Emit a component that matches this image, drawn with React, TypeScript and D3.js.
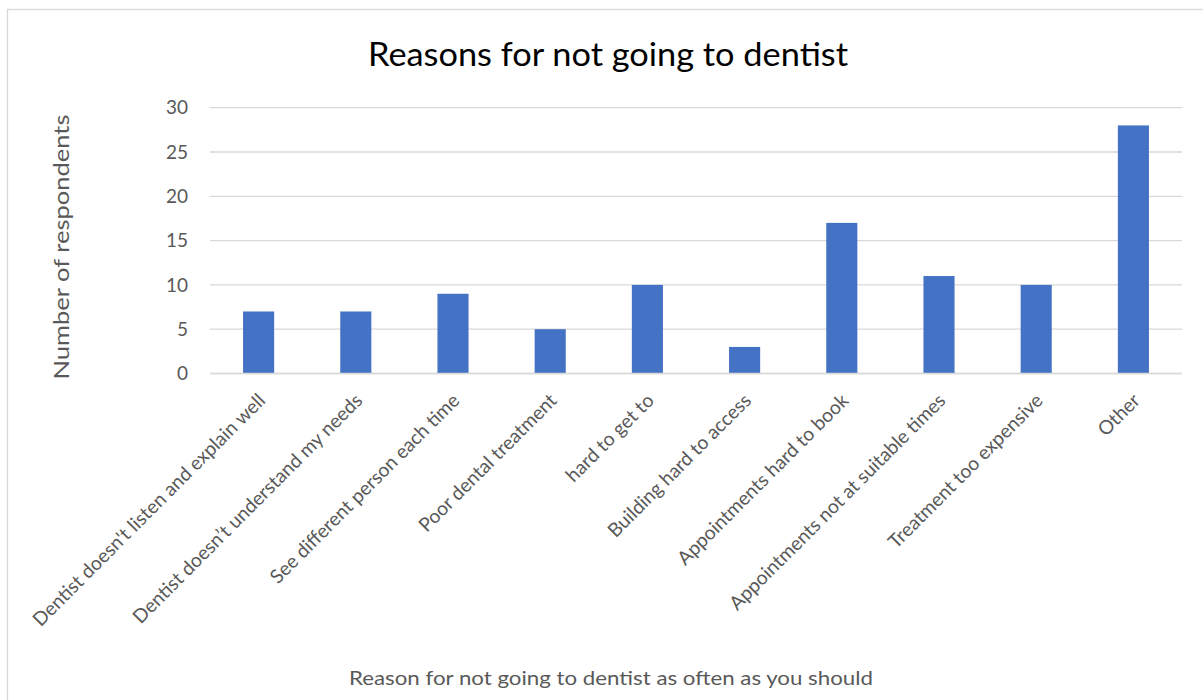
import React from "react";
import * as d3 from "d3";

const categories = [
  "Dentist doesn't listen and explain well",
  "Dentist doesn\u2019t understand my needs",
  "See different person each time",
  "Poor dental treatment",
  "hard to get to",
  "Building hard to access",
  "Appointments hard to book",
  "Appointments not at suitable times",
  "Treatment too expensive",
  "Other",
];
const values = [7, 7, 9, 5, 10, 3, 17, 11, 10, 28];
const yTicks = [0, 5, 10, 15, 20, 25, 30];
const title = "Reasons for not going to dentist";
const xTitle = "Reason for not going to dentist as often as you should";
const yTitle = "Number of respondents";

const W = 1203;
const H = 700;
const FONT = "Lato, 'Open Sans', sans-serif";

export default function App() {
  const left = 210;
  const right = 1182;
  const top = 107.7;
  const bottom = 373.5;
  const x = d3.scaleBand<string>().domain(categories).range([left, right]).paddingInner(0.68).paddingOuter(0.34);
  const y = d3.scaleLinear().domain([0, 30]).range([bottom, top]);

  return (
    <svg width={W} height={H} style={{ position: "absolute", left: 0, top: 0, display: "block" }}>
      <rect x={0} y={0} width={W} height={H} fill="#fff" />
      <rect x={7.5} y={9.5} width={W + 20} height={H + 20} fill="#fff" stroke="#d9d9d9" strokeWidth={1.3} />
      <text x={608} y={65.5} textAnchor="middle" fontFamily={FONT} fontSize={32} fill="#000" textLength={480} lengthAdjust="spacingAndGlyphs">
        {title}
      </text>
      {yTicks.map((t) => (
        <g key={t}>
          <line x1={left} x2={right} y1={y(t)} y2={y(t)} stroke="#d9d9d9" strokeWidth={1.3} />
          <text x={188} y={y(t)} dy="0.35em" textAnchor="end" fontFamily={FONT} fontSize={19} fill="#595959">
            {t}
          </text>
        </g>
      ))}
      {categories.map((c, i) => (
        <rect key={c} x={x(c)} y={y(values[i])} width={x.bandwidth()} height={y(0) - y(values[i])} fill="#4472C4" />
      ))}
      <line x1={left} x2={right} y1={y(0)} y2={y(0)} stroke="#d9d9d9" strokeWidth={1.3} />
      {categories.map((c) => {
        const cx = (x(c) as number) + x.bandwidth() / 2 + 3;
        const cy = 397;
        return (
          <text key={c} transform={`translate(${cx},${cy}) rotate(-45)`} dy="0.35em" textAnchor="end" fontFamily={FONT} fontSize={19.3} fill="#595959">
            {c}
          </text>
        );
      })}
      <text transform={`translate(62,247) rotate(-90)`} dy="0.35em" textAnchor="middle" fontFamily={FONT} fontSize={21} fill="#595959" textLength={265} lengthAdjust="spacingAndGlyphs">
        {yTitle}
      </text>
      <text x={611} y={678} dy="0.35em" textAnchor="middle" fontFamily={FONT} fontSize={19} fill="#595959" textLength={524} lengthAdjust="spacingAndGlyphs">
        {xTitle}
      </text>
    </svg>
  );
}
